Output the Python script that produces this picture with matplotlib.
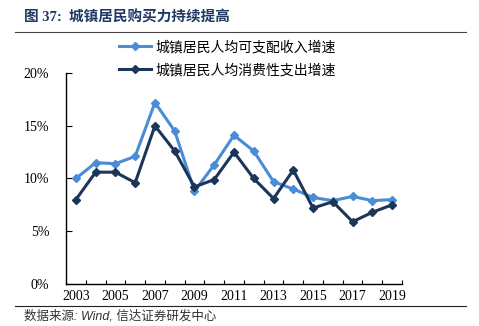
import numpy as np
import matplotlib
matplotlib.use("Agg")
import matplotlib.pyplot as plt
from matplotlib.lines import Line2D
from matplotlib.ticker import FuncFormatter, FixedLocator

plt.rcParams['font.family'] = ['Liberation Serif', 'Noto Sans CJK SC', 'DejaVu Sans']

# datos
years = np.arange(2003, 2020)
income = [10.0, 11.5, 11.4, 12.1, 17.2, 14.5, 8.8, 11.3, 14.1, 12.6,
          9.7, 9.0, 8.2, 7.9, 8.3, 7.9, 8.0]
spend = [8.0, 10.6, 10.6, 9.6, 15.0, 12.6, 9.2, 9.9, 12.5, 10.0,
         8.1, 10.8, 7.2, 7.8, 5.9, 6.8, 7.5]
label_income = "城镇居民人均可支配收入增速"
label_spend = "城镇居民人均消费性支出增速"
title = "图 37:  城镇居民购买力持续提高"
source = "数据来源: Wind, 信达证券研发中心"

c_light = "#4A8CD6"
c_dark = "#1B3658"

W, H = 479, 326
fig = plt.figure(figsize=(W / 100, H / 100), dpi=100)
ax = fig.add_axes([66 / W, (H - 284) / H, (402 - 66) / W, (284 - 73) / H])

ax.plot(years, income, color=c_light, lw=2.2, marker="D", ms=4, label=label_income)
ax.plot(years, spend, color=c_dark, lw=2.2, marker="D", ms=4, label=label_spend)

ax.set_xlim(2002.5, 2019.5)
ax.set_ylim(0, 20)
ax.set_yticks([0, 5, 10, 15, 20])
ax.yaxis.set_major_formatter(FuncFormatter(lambda v, p: f"{v:.0f}%"))
ax.set_xticks(years[::2])
ax.xaxis.set_minor_locator(FixedLocator(np.arange(2002.5, 2020, 1)))
ax.tick_params(axis="x", which="major", length=0, pad=4, labelsize=10)
ax.tick_params(axis="x", which="minor", direction="in", length=3, width=0.8)
ax.tick_params(axis="y", direction="in", length=4, width=0.8, pad=12, labelsize=10)
for s in ["top", "right"]:
    ax.spines[s].set_visible(False)
for s in ["left", "bottom"]:
    ax.spines[s].set_linewidth(1.0)

leg = fig.legend(handles=ax.get_lines(), loc="upper left",
                 bbox_to_anchor=(119 / W, 1 - 40 / H), frameon=False,
                 prop={"family": ["Noto Sans CJK SC"], "size": 10},
                 handlelength=2.3, handletextpad=0.35, labelspacing=0.65,
                 borderaxespad=0, borderpad=0)

# titulo y fuente
fig.text(24 / W, 1 - 17 / H, title, fontsize=10.5, fontweight="bold", color="#1F3864",
         va="center", ha="left", family=["Liberation Serif", "Noto Sans CJK SC"])
fig.add_artist(Line2D([15 / W, 466 / W], [1 - 32 / H, 1 - 32 / H], color="#444444", lw=0.8))
fig.add_artist(Line2D([15 / W, 466 / W], [1 - 306 / H, 1 - 306 / H], color="#222222", lw=0.8))
fig.text(24 / W, 1 - 316 / H, source, fontsize=9, style="italic", color="#333333",
         va="center", ha="left", family=["Liberation Sans", "Noto Sans CJK SC"])

fig.savefig("out.png", dpi=100)
